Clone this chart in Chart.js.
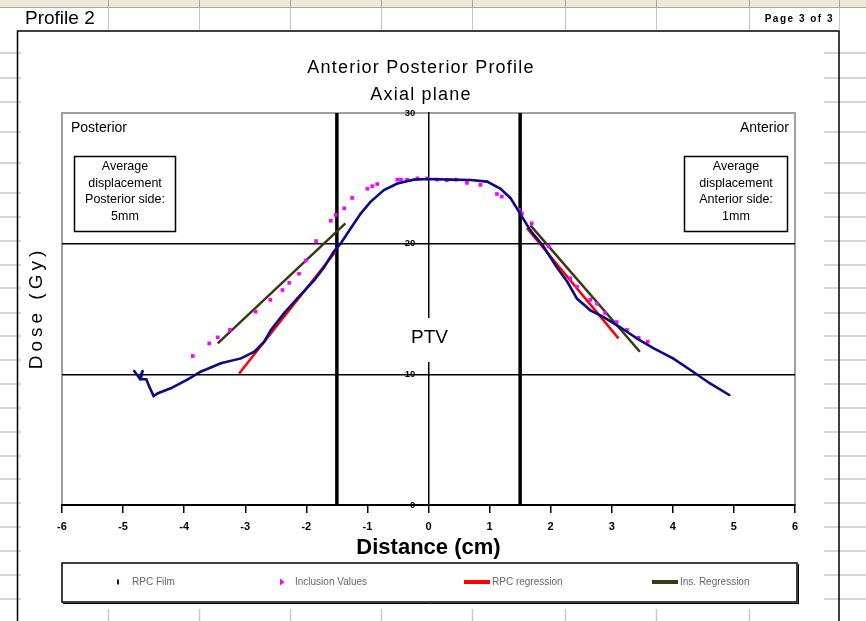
<!DOCTYPE html>
<html>
<head>
<meta charset="utf-8">
<title>Anterior Posterior Profile</title>
<script src="https://cdn.jsdelivr.net/npm/chart.js@4.4.1/dist/chart.umd.min.js"></script>
<style>
    html, body { margin: 0; padding: 0; background: #fff; }
    canvas { display: block; }
</style>
</head>
<body>
<canvas id="profileChart" width="866" height="621"></canvas>
<script>
    // distance (cm) and dose (Gy)
    const filmX = [-4.82, -4.73, -4.68, -4.71, -4.62, -4.57, -4.50, -4.43, -4.22, -3.94, -3.73, -3.40, -3.07, -2.85, -2.69, -2.58, -2.36, -2.15, -1.87, -1.71, -1.55, -1.44, -1.27, -1.11, -0.95, -0.73, -0.51, -0.24, 0.00, 0.36, 0.69, 0.96, 1.18, 1.34, 1.50, 1.67, 1.88, 2.10, 2.27, 2.43, 2.65, 2.86, 3.14, 3.41, 3.68, 4.01, 4.33, 4.61, 4.93]
    const filmY = [10.28, 9.69, 10.28, 9.62, 9.62, 9.05, 8.34, 8.55, 8.93, 9.62, 10.2, 10.84, 11.22, 11.73, 12.5, 13.4, 14.7, 15.8, 17.2, 18.2, 19.4, 20.0, 21.2, 22.3, 23.2, 24.1, 24.6, 24.9, 24.95, 24.9, 24.87, 24.75, 24.2, 23.5, 22.3, 21.0, 19.8, 18.2, 17.1, 15.8, 14.9, 14.4, 13.6, 12.75, 12.0, 11.2, 10.2, 9.3, 8.4]

    const inclX = [-3.86, -3.59, -3.45, -3.25, -2.83, -2.59, -2.39, -2.28, -2.12, -2.01, -1.84, -1.60, -1.52, -1.38, -1.25, -1.00, -0.92, -0.84, -0.51, -0.45, -0.35, -0.18, -0.02, 0.14, 0.30, 0.45, 0.63, 0.85, 1.12, 1.20, 1.48, 1.53, 1.69, 1.97, 2.32, 2.43, 2.65, 2.76, 2.89, 3.08, 3.25, 3.44, 3.59]
    const inclY = [11.4, 12.37, 12.83, 13.4, 14.8, 15.7, 16.45, 17.0, 17.7, 18.7, 20.2, 21.75, 22.2, 22.7, 23.5, 24.2, 24.4, 24.56, 24.9, 24.9, 24.9, 25.0, 25.0, 24.9, 24.85, 24.9, 24.65, 24.5, 23.8, 23.6, 22.6, 22.3, 21.55, 19.8, 17.35, 16.7, 15.7, 15.4, 14.7, 14.0, 13.4, 12.8, 12.5]

    // regression fits, posterior side then anterior side (null breaks the line)
    const rpcRegX = [-3.10, -1.52, null, 1.61, 3.11]
    const rpcRegY = [10.07, 19.4, null, 21.2, 12.75]
    const insRegX = [-3.45, -1.36, null, 1.67, 3.46]
    const insRegY = [12.37, 21.55, null, 21.4, 11.73]

    // PTV edges (cm)
    const ptvEdges = [-1.5, 1.5]

    const xTicks = [-6, -5, -4, -3, -2, -1, 0, 1, 2, 3, 4, 5, 6]
    const yTicks = [0, 10, 20, 30]

    const FONT = `'Liberation Sans', Arial, sans-serif`

    const toPoints = (xs, ys) => xs.map((x, i) => ({ x: x === null ? 0 : x, y: ys[i] }))

    // spreadsheet page round the chart object
    const sheetCols = [108, 199, 290, 381, 472, 565, 656, 749, 839]
    const sheetRows = [53, 78, 102, 132, 163, 193, 217, 241, 265, 288, 313, 336, 360, 384, 408, 432, 456, 479, 503, 527, 551, 575, 599]

    function line(ctx, x1, y1, x2, y2) {
        ctx.beginPath()
        ctx.moveTo(x1, y1)
        ctx.lineTo(x2, y2)
        ctx.stroke()
    }

    function text(ctx, str, x, y, font, align, spacing) {
        ctx.font = font
        ctx.textAlign = align || `center`
        ctx.textBaseline = `middle`
        ctx.letterSpacing = spacing || `0px`
        ctx.fillText(str, x, y)
        ctx.letterSpacing = `0px`
    }

    const pagePlugin = {
        id: `page`,
        beforeDraw(chart) {
            const { ctx, chartArea: a } = chart
            ctx.save()
            ctx.fillStyle = `#fff`
            ctx.fillRect(0, 0, chart.width, chart.height)

            // column header strip
            ctx.fillStyle = `#ece9d8`
            ctx.fillRect(0, 0, chart.width, 7)
            ctx.strokeStyle = `#aca899`
            ctx.lineWidth = 1
            line(ctx, 0, 7.5, chart.width, 7.5)
            sheetCols.forEach(x => line(ctx, x + 0.5, 0, x + 0.5, 7))
            ctx.strokeStyle = `#c8c8c8`
            sheetCols.forEach(x => line(ctx, x + 0.5, 8, x + 0.5, 30))
            ctx.lineWidth = 1.5
            sheetRows.forEach(y => {
                line(ctx, 0, y, 21, y)
                line(ctx, 824, y, chart.width, y)
            })
            sheetCols.slice(0, -1).forEach(x => line(ctx, x + 0.5, 609, x + 0.5, chart.height))

            ctx.fillStyle = `#000`
            text(ctx, `Profile 2`, 25, 18.5, `19px ${FONT}`, `left`)
            text(ctx, `Page 3 of 3`, 834, 19, `bold 10px ${FONT}`, `right`, `1.5px`)

            // chart object border
            ctx.strokeStyle = `#000`
            ctx.lineWidth = 1.5
            ctx.strokeRect(17.5, 31, 821.5, 700)

            // plot area border
            ctx.strokeStyle = `#a0a0a0`
            ctx.lineWidth = 2
            ctx.strokeRect(a.left, a.top, a.right - a.left, a.bottom - a.top)
            ctx.restore()
        },
        beforeDatasetsDraw(chart) {
            const { ctx } = chart
            const x = chart.scales.x
            ctx.save()
            ctx.fillStyle = `#000`
            text(ctx, `Posterior`, 71, 128, `14px ${FONT}`, `left`)
            text(ctx, `Anterior`, 789, 128, `14px ${FONT}`, `right`)

            ctx.strokeStyle = `#000`
            ctx.lineWidth = 1.5
            ctx.strokeRect(74.5, 156.5, 101, 75)
            ctx.strokeRect(684.5, 156.5, 103, 75)
            const boxFont = `12.5px ${FONT}`
            ;[`Average`, `displacement`, `Posterior side:`, `5mm`].forEach((s, i) => text(ctx, s, 125, 167 + i * 16.5, boxFont))
            ;[`Average`, `displacement`, `Anterior side:`, `1mm`].forEach((s, i) => text(ctx, s, 736, 167 + i * 16.5, boxFont))

            // PTV label sits over the dose axis
            const cx = x.getPixelForValue(0)
            ctx.fillStyle = `#fff`
            ctx.fillRect(cx - 24, 318, 48, 44)
            ctx.fillStyle = `#000`
            text(ctx, `PTV`, cx + 1, 338, `19px ${FONT}`)
            ctx.restore()
        },
        afterDraw(chart) {
            const { ctx } = chart
            ctx.save()
            ctx.fillStyle = `#000`
            text(ctx, `Anterior Posterior Profile`, 421, 68, `18px ${FONT}`, `center`, `1.2px`)
            text(ctx, `Axial plane`, 421, 95, `18px ${FONT}`, `center`, `1.2px`)

            ctx.translate(37, 308)
            ctx.rotate(-Math.PI / 2)
            text(ctx, `Dose (Gy)`, 0, 0, `19px ${FONT}`, `center`, `4px`)
            ctx.setTransform(1, 0, 0, 1, 0, 0)

            // legend box
            ctx.strokeStyle = `#000`
            ctx.lineWidth = 1.5
            ctx.strokeRect(62, 563, 735, 39)
            ctx.lineWidth = 1
            line(ctx, 63, 603.5, 798, 603.5)
            line(ctx, 798.5, 564, 798.5, 604)

            const y = 582
            chart.data.datasets.filter(d => d.legendSlot).forEach(d => {
                const sx = d.legendSlot
                let tx = sx + 14
                if (d.legendMarker === `tick`) {
                    ctx.fillStyle = d.backgroundColor
                    ctx.fillRect(sx - 1, y - 2.5, 2, 5)
                } else if (d.legendMarker === `triangle`) {
                    ctx.fillStyle = d.backgroundColor
                    ctx.beginPath()
                    ctx.moveTo(sx - 2, y - 3.5)
                    ctx.lineTo(sx + 2.5, y)
                    ctx.lineTo(sx - 2, y + 3.5)
                    ctx.fill()
                    tx = sx + 13
                } else {
                    ctx.strokeStyle = d.borderColor
                    ctx.lineWidth = 4
                    line(ctx, sx, y, sx + 26, y)
                    tx = sx + 28
                }
                ctx.fillStyle = `#666`
                text(ctx, d.label, tx, y, `10px ${FONT}`, `left`)
            })
            ctx.restore()
        }
    }

    Chart.defaults.font.family = FONT
    Chart.defaults.color = `#000`

    new Chart(document.getElementById(`profileChart`), {
        type: `scatter`,
        data: {
            datasets: [
                {
                    label: `RPC Film`,
                    data: toPoints(filmX, filmY),
                    showLine: true,
                    borderColor: `#0c0c84`,
                    backgroundColor: `#0c0c84`,
                    borderWidth: 2.6,
                    pointStyle: `rect`,
                    pointRadius: 1.3,
                    pointBorderWidth: 0,
                    legendSlot: 118,
                    legendMarker: `tick`,
                    order: 1
                },
                {
                    label: `Inclusion Values`,
                    data: toPoints(inclX, inclY),
                    showLine: false,
                    borderColor: `#ff00ff`,
                    backgroundColor: `#ff00ff`,
                    pointStyle: `rect`,
                    pointRadius: 2.6,
                    pointBorderWidth: 0,
                    legendSlot: 282,
                    legendMarker: `triangle`,
                    order: 2
                },
                {
                    label: `RPC regression`,
                    data: toPoints(rpcRegX, rpcRegY),
                    showLine: true,
                    spanGaps: false,
                    borderColor: `#ff0000`,
                    borderWidth: 2.5,
                    pointRadius: 0,
                    legendSlot: 464,
                    legendMarker: `line`,
                    order: 3
                },
                {
                    label: `Ins. Regression`,
                    data: toPoints(insRegX, insRegY),
                    showLine: true,
                    spanGaps: false,
                    borderColor: `#3a3a10`,
                    borderWidth: 2.5,
                    pointRadius: 0,
                    legendSlot: 652,
                    legendMarker: `line`,
                    order: 4
                },
                ...ptvEdges.map(e => ({
                    label: `PTV edge`,
                    data: [{ x: e, y: yTicks[0] }, { x: e, y: yTicks[yTicks.length - 1] }],
                    showLine: true,
                    borderColor: `#000`,
                    borderWidth: 3.5,
                    pointRadius: 0,
                    order: 10
                }))
            ]
        },
        options: {
            responsive: false,
            animation: false,
            devicePixelRatio: 1,
            layout: { padding: { left: 62, right: 71, top: 113, bottom: 0 } },
            plugins: { legend: { display: false }, tooltip: { enabled: false } },
            scales: {
                x: {
                    type: `linear`,
                    position: `bottom`,
                    min: xTicks[0],
                    max: xTicks[xTicks.length - 1],
                    afterBuildTicks: s => { s.ticks = xTicks.map(v => ({ value: v })) },
                    afterFit: s => { s.height = 116 },
                    grid: { drawOnChartArea: false, drawTicks: true, tickLength: 8, color: `#000`, lineWidth: 1.5 },
                    border: { color: `#000`, width: 2 },
                    ticks: { padding: 7, font: { size: 11, weight: `bold` }, color: `#000` },
                    title: {
                        display: true,
                        text: `Distance (cm)`,
                        font: { size: 22, weight: `bold` },
                        padding: { top: 0, bottom: 60 },
                        color: `#000`
                    }
                },
                y: {
                    type: `linear`,
                    axis: `y`,
                    position: { x: 0 },
                    min: yTicks[0],
                    max: yTicks[yTicks.length - 1],
                    afterBuildTicks: s => { s.ticks = yTicks.map(v => ({ value: v })) },
                    afterFit: s => { s.width = 0 },
                    grid: {
                        drawTicks: false,
                        color: c => c.tick && c.tick.value === yTicks[yTicks.length - 1] ? `#a0a0a0` : `#000`,
                        lineWidth: 1.5
                    },
                    border: { color: `#000`, width: 1.5 },
                    ticks: {
                        font: { size: 9.5, weight: `bold` },
                        color: `#000`,
                        callback: v => `${v}     `
                    }
                }
            }
        },
        plugins: [pagePlugin]
    })
</script>
</body>
</html>
